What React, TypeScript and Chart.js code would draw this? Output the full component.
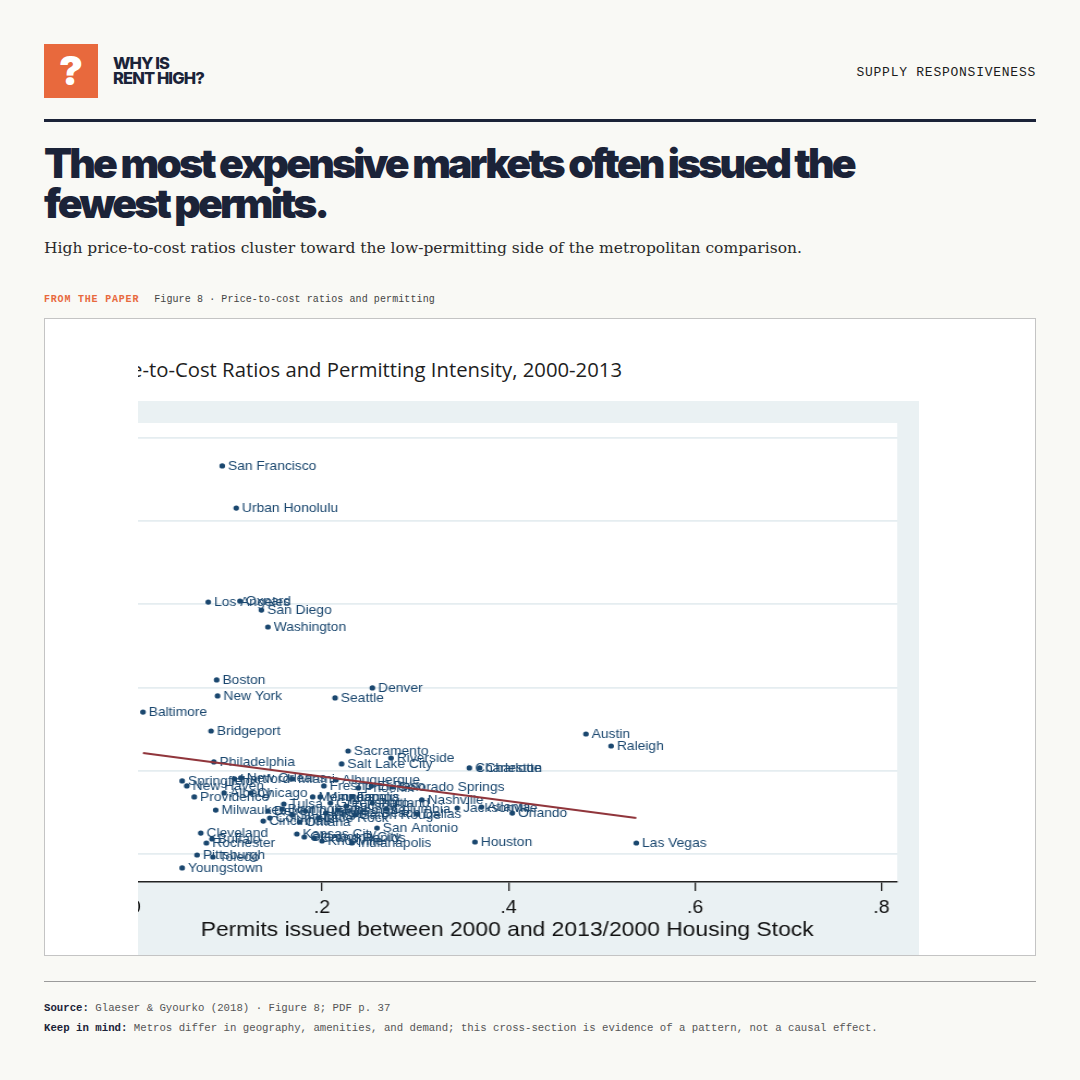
import React, { useEffect, useRef } from 'react';
import { Chart, registerables } from 'chart.js';

Chart.register(...registerables);

// ---- Data (Glaeser & Gyourko 2018, Figure 8) ----
const metroNames = [
  'San Francisco', 'Urban Honolulu', 'Los Angeles', 'Oxnard', 'San Diego', 'Washington',
  'Boston', 'New York', 'Baltimore', 'Bridgeport', 'Denver', 'Seattle',
  'Sacramento', 'Riverside', 'Salt Lake City', 'Philadelphia', 'Charleston', 'Charlotte',
  'Austin', 'Raleigh', 'Las Vegas', 'Houston', 'Orlando', 'Atlanta',
  'Jacksonville', 'Dallas', 'Nashville', 'Colorado Springs', 'El Paso', 'San Antonio',
  'Indianapolis', 'Knoxville', 'Kansas City', 'Oklahoma City', 'Grand Rapids', 'Cleveland',
  'Rochester', 'Buffalo', 'Pittsburgh', 'Toledo', 'Youngstown', 'Springfield',
  'New Haven', 'Providence', 'Milwaukee', 'Hartford', 'New Orleans', 'Albany',
  'Chicago', 'Cincinnati', 'Columbus', 'Tulsa', 'Miami', 'Albuquerque',
  'Fresno', 'Minneapolis', 'Memphis', 'Detroit', 'Birmingham', 'Louisville',
  'St. Louis', 'Omaha', 'Little Rock', 'Greensboro', 'Richmond', 'Tucson',
  'Tampa', 'Phoenix', 'Portland', 'Columbia', 'Virginia Beach', 'Baton Rouge',
];

// Permits issued 2000-2013 / 2000 housing stock
const permitShare = [
  0.093, 0.108, 0.078, 0.112, 0.135, 0.142,
  0.087, 0.088, 0.008, 0.081, 0.254, 0.214,
  0.228, 0.274, 0.221, 0.084, 0.358, 0.369,
  0.483, 0.510, 0.537, 0.364, 0.404, 0.371,
  0.345, 0.302, 0.307, 0.275, 0.253, 0.259,
  0.232, 0.200, 0.173, 0.181, 0.192, 0.070,
  0.076, 0.082, 0.066, 0.083, 0.050, 0.050,
  0.055, 0.063, 0.086, 0.106, 0.113, 0.095,
  0.124, 0.137, 0.144, 0.159, 0.168, 0.215,
  0.202, 0.198, 0.190, 0.142, 0.157, 0.182,
  0.168, 0.176, 0.196, 0.209, 0.217, 0.226,
  0.232, 0.239, 0.254, 0.269, 0.204, 0.235,
];

// Price-to-cost ratio (axis cropped in the source image)
const priceCostRatio = [
  2.832, 2.579, 2.014, 2.020, 1.966, 1.864,
  1.546, 1.450, 1.353, 1.239, 1.498, 1.438,
  1.119, 1.077, 1.041, 1.053, 1.017, 1.017,
  1.221, 1.149, 0.566, 0.572, 0.746, 0.782,
  0.776, 0.740, 0.825, 0.903, 0.909, 0.656,
  0.566, 0.578, 0.620, 0.602, 0.596, 0.626,
  0.566, 0.590, 0.494, 0.482, 0.416, 0.939,
  0.909, 0.843, 0.764, 0.951, 0.957, 0.867,
  0.867, 0.698, 0.716, 0.800, 0.951, 0.945,
  0.909, 0.843, 0.843, 0.758, 0.770, 0.758,
  0.734, 0.692, 0.716, 0.806, 0.764, 0.788,
  0.843, 0.897, 0.806, 0.770, 0.746, 0.734,
];

// Fitted line endpoints
const fitLineX = [0.008, 0.537];
const fitLineY = [1.107, 0.716];

const xTickValues = [0, 0.2, 0.4, 0.6, 0.8];
const xTickLabels = ['0', '.2', '.4', '.6', '.8'];
const yGridValues = [0.5, 1, 1.5, 2, 2.5, 3];

const FIG_TITLE = 'Price-to-Cost Ratios and Permitting Intensity, 2000-2013';
const X_TITLE = 'Permits issued between 2000 and 2013/2000 Housing Stock';

const NAVY = '#1a476f';
const STRETCH = 840 / 771;

const regionPlugin = {
  id: 'stataRegions',
  beforeDraw(chart: any) {
    const { ctx, chartArea: a, width, height } = chart;
    ctx.save();
    ctx.fillStyle = '#eaf1f3';
    ctx.fillRect(0, 0, width, height);
    ctx.fillStyle = '#ffffff';
    ctx.fillRect(a.left, a.top, a.right - a.left, a.bottom - a.top);
    ctx.restore();
  },
};

const labelPlugin = {
  id: 'metroLabels',
  afterDatasetDraw(chart: any, args: any) {
    if (args.index !== 1) return;
    const ctx = chart.ctx;
    ctx.save();
    ctx.font = '12.7px "Liberation Sans", Arial, sans-serif';
    ctx.fillStyle = NAVY;
    ctx.textBaseline = 'middle';
    ctx.textAlign = 'left';
    args.meta.data.forEach((el: any, i: number) => {
      ctx.fillText(metroNames[i], el.x + 5.3, el.y + 0.8);
    });
    ctx.restore();
  },
};

function ScatterFigure() {
  const ref = useRef<HTMLCanvasElement | null>(null);
  useEffect(() => {
    if (!ref.current) return;
    const chart = new Chart(ref.current, {
      type: 'scatter',
      data: {
        datasets: [
          {
            data: fitLineX.map((x, i) => ({ x, y: fitLineY[i] })),
            showLine: true,
            borderColor: '#90353b',
            borderWidth: 2,
            pointRadius: 0,
            fill: false,
          } as any,
          {
            data: permitShare.map((x, i) => ({ x, y: priceCostRatio[i] })),
            backgroundColor: NAVY,
            borderWidth: 0,
            pointRadius: 2.6,
          },
        ],
      },
      options: {
        responsive: false,
        animation: false,
        events: [],
        layout: { padding: { top: 22, right: 20, left: 0, bottom: 0 } },
        plugins: {
          legend: { display: false },
          tooltip: { enabled: false },
          title: { display: false },
        },
        scales: {
          x: {
            type: 'linear',
            min: -0.0197,
            max: 0.8168,
            afterBuildTicks: (s: any) => {
              s.ticks = xTickValues.map((v) => ({ value: v }));
            },
            afterFit: (s: any) => {
              s.height = 73;
            },
            grid: {
              drawOnChartArea: false,
              drawTicks: true,
              tickLength: 9,
              color: '#222222',
              lineWidth: 1.3,
            },
            border: { display: true, color: '#222222', width: 1.6 },
            ticks: {
              font: { family: '"Liberation Sans", Arial, sans-serif', size: 18 },
              color: '#111111',
              padding: 6,
              maxRotation: 0,
              autoSkip: false,
              callback: (v: any) => {
                const i = xTickValues.findIndex((t) => Math.abs(t - Number(v)) < 1e-9);
                return i >= 0 ? xTickLabels[i] : '';
              },
            },
            title: {
              display: true,
              text: X_TITLE,
              font: { family: '"Liberation Sans", Arial, sans-serif', size: 21 },
              color: '#111111',
              padding: { top: 0, bottom: 12 },
            },
          },
          y: {
            type: 'linear',
            min: 0.3317,
            max: 3.09,
            afterBuildTicks: (s: any) => {
              s.ticks = yGridValues.map((v) => ({ value: v }));
            },
            afterFit: (s: any) => {
              s.width = 35;
            },
            ticks: { display: false },
            grid: { color: '#e5edf0', lineWidth: 1.8, drawTicks: false },
            border: { display: false },
          },
        },
      },
      plugins: [regionPlugin, labelPlugin],
    });
    return () => chart.destroy();
  }, []);

  return (
    <div
      style={{
        position: 'absolute',
        left: -59,
        top: 82,
        width: 771,
        height: 554,
        transform: `scaleX(${STRETCH})`,
        transformOrigin: '0 0',
      }}
    >
      <canvas ref={ref} width={771} height={554} style={{ width: 771, height: 554, display: 'block' }} />
    </div>
  );
}

const MONO = '"Liberation Mono", "DejaVu Sans Mono", monospace';
const INK = '#1b2338';

export default function App() {
  useEffect(() => {
    document.body.style.margin = '0';
  }, []);

  return (
    <div
      style={{
        position: 'absolute',
        left: 0,
        top: 0,
        width: 1080,
        height: 1080,
        background: '#f9f9f5',
        overflow: 'hidden',
        fontFamily: 'Inter, sans-serif',
      }}
    >
      {/* Brand mark */}
      <div
        style={{
          position: 'absolute', left: 44, top: 44, width: 54, height: 54, background: '#e8693d',
          color: '#ffffff', display: 'flex', alignItems: 'center', justifyContent: 'center',
          fontFamily: 'Inter, sans-serif', fontWeight: 900, fontSize: 40, lineHeight: '54px',
        }}
      >
        ?
      </div>
      <div
        style={{
          position: 'absolute', left: 113, top: 55.5, fontFamily: 'Inter, sans-serif', fontWeight: 800,
          fontSize: 16.5, lineHeight: '15px', letterSpacing: '-0.9px', color: INK,
        }}
      >
        <div>WHY IS</div>
        <div>RENT HIGH?</div>
      </div>
      <div
        style={{
          position: 'absolute', right: 44, top: 65, fontFamily: MONO, fontSize: 13, lineHeight: '15px',
          letterSpacing: '0.75px', color: '#1b1b1b', whiteSpace: 'nowrap',
        }}
      >
        SUPPLY RESPONSIVENESS
      </div>
      <div style={{ position: 'absolute', left: 44, top: 119, width: 992, height: 3, background: INK }} />

      {/* Headline */}
      <div
        style={{
          position: 'absolute', left: 44, top: 143, fontFamily: 'Inter, sans-serif', fontWeight: 900,
          fontSize: 41, lineHeight: '40px', letterSpacing: '-2.85px', color: INK, whiteSpace: 'nowrap',
        }}
      >
        <div>The most expensive markets often issued the</div>
        <div>fewest permits.</div>
      </div>
      <div
        style={{
          position: 'absolute', left: 44, top: 238, fontFamily: '"DejaVu Serif", serif',
          fontSize: 15.5, lineHeight: '20px', color: '#2a2a2a', whiteSpace: 'nowrap',
        }}
      >
        High price-to-cost ratios cluster toward the low-permitting side of the metropolitan comparison.
      </div>

      {/* Figure caption */}
      <div
        style={{
          position: 'absolute', left: 44, top: 294, fontFamily: MONO, fontSize: 10, lineHeight: '12px',
          whiteSpace: 'nowrap', color: '#444444',
        }}
      >
        <span style={{ color: '#e8693d', fontWeight: 700, letterSpacing: '0.8px' }}>FROM THE PAPER</span>
        <span style={{ display: 'inline-block', width: 15 }} />
        <span style={{ letterSpacing: '0.1px' }}>Figure 8 · Price-to-cost ratios and permitting</span>
      </div>

      {/* Figure frame */}
      <div
        style={{
          position: 'absolute', left: 44, top: 318, width: 990, height: 636,
          border: '1px solid #c4c4c4', background: '#ffffff',
        }}
      >
        <div style={{ position: 'absolute', left: 93, top: 0, width: 897, height: 636, overflow: 'hidden' }}>
          <div
            style={{
              position: 'absolute', right: 413, top: 38, fontFamily: '"Open Sans", sans-serif',
              fontSize: 20.3, lineHeight: '24px', color: '#1e1e1e', whiteSpace: 'nowrap',
            }}
          >
            {FIG_TITLE}
          </div>
          <ScatterFigure />
        </div>
      </div>

      {/* Footer */}
      <div style={{ position: 'absolute', left: 44, top: 981, width: 992, height: 1, background: '#9b9b9b' }} />
      <div
        style={{
          position: 'absolute', left: 44, top: 1002, fontFamily: MONO, fontSize: 10.7, lineHeight: '13px',
          color: '#555555', whiteSpace: 'nowrap',
        }}
      >
        <span style={{ fontWeight: 700, color: INK }}>Source:</span> Glaeser &amp; Gyourko (2018) · Figure 8; PDF p. 37
      </div>
      <div
        style={{
          position: 'absolute', left: 44, top: 1022, fontFamily: MONO, fontSize: 10.7, lineHeight: '13px',
          color: '#555555', whiteSpace: 'nowrap',
        }}
      >
        <span style={{ fontWeight: 700, color: INK }}>Keep in mind:</span> Metros differ in geography, amenities, and
        demand; this cross-section is evidence of a pattern, not a causal effect.
      </div>
    </div>
  );
}
